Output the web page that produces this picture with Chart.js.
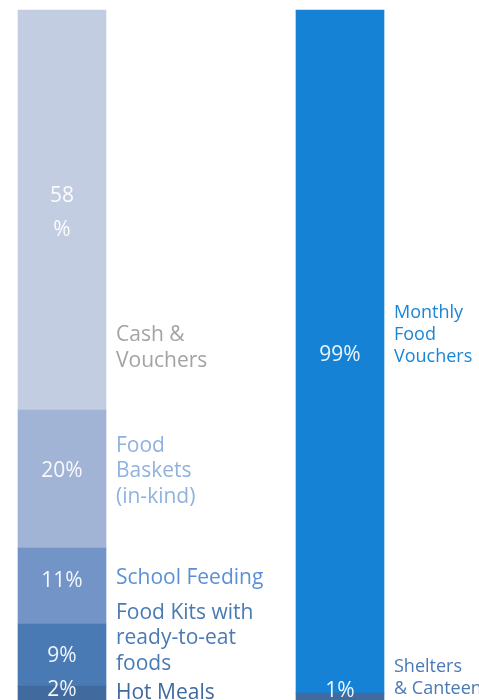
<!DOCTYPE html>
<html>
<head>
<meta charset="utf-8">
<script src="https://cdn.jsdelivr.net/npm/chart.js@4/dist/chart.umd.min.js"></script>
<style>
  html, body { margin: 0; padding: 0; background: #fff; }
  #wrap { position: relative; width: 479px; height: 700px; }
</style>
</head>
<body>
<div id="wrap"><canvas id="chart"></canvas></div>
<script>
// Two programmes, stacked from the bottom up
const programmes = ["Food Assistance", "Refugee Response"];

const leftLabels = [["Hot Meals"], ["Food Kits with", "ready-to-eat", "foods"], ["School Feeding"], ["Food", "Baskets", "(in-kind)"], ["Cash &", "Vouchers"]];
const leftValues = [2, 9, 11, 20, 58];
const leftPctText = [["2%"], ["9%"], ["11%"], ["20%"], ["58", "%"]];

const rightLabels = [["Shelters", "& Canteen"], ["Monthly", "Food", "Vouchers"]];
const rightValues = [1, 99];
const rightPctText = [["1%"], ["99%"]];

// look
const leftFill = ["#416a9e", "#4a7ab4", "#7294c6", "#a1b4d5", "#c3cde2"];
const leftText = ["#3f6a9e", "#4a7ab4", "#5b90d8", "#8fb2df", "#a3a3a3"];
const rightFill = ["#416a9e", "#1582d6"];
const rightText = ["#4a7ab4", "#1a86d6"];
// vertical nudges for labels relative to the segment centre
const leftLabelDy = [0, -17, -8, -8, 138];
const leftPctDy = [-3, 1, -5, -8, 3];
const rightLabelDy = [-19, -17];
const rightPctDy = [-6, 3];

const datasets = [];
leftValues.forEach((v, i) => {
  datasets.push({
    data: [v, null], backgroundColor: leftFill[i],
    _label: leftLabels[i], _pct: leftPctText[i], _color: leftText[i],
    _dy: leftLabelDy[i], _pdy: leftPctDy[i], _size: 21, _lh: 25.5
  });
});
rightValues.forEach((v, i) => {
  datasets.push({
    data: [null, v], backgroundColor: rightFill[i],
    _label: rightLabels[i], _pct: rightPctText[i], _color: rightText[i],
    _dy: rightLabelDy[i], _pdy: rightPctDy[i], _size: 18, _lh: 22
  });
});

const segmentText = {
  id: "segmentText",
  afterDatasetsDraw(chart) {
    const ctx = chart.ctx;
    ctx.save();
    ctx.textBaseline = "middle";
    chart.data.datasets.forEach((ds, di) => {
      const meta = chart.getDatasetMeta(di);
      meta.data.forEach((bar, idx) => {
        if (ds.data[idx] == null) return;
        const p = bar.getProps(["x", "y", "base", "width"], true);
        const cy = (p.y + p.base) / 2;
        // percentage inside the bar
        ctx.fillStyle = "rgba(255,255,255,0.92)";
        ctx.font = "21px 'Open Sans'";
        ctx.textAlign = "center";
        const pl = ds._pct;
        pl.forEach((t, k) => {
          ctx.fillText(t, p.x, cy + ds._pdy + (k - (pl.length - 1) / 2) * 34);
        });
        // name to the right
        ctx.fillStyle = ds._color;
        ctx.font = ds._size + "px 'Open Sans'";
        ctx.textAlign = "left";
        const ll = ds._label;
        ll.forEach((t, k) => {
          ctx.fillText(t, p.x + p.width / 2 + 10, cy + ds._dy + (k - (ll.length - 1) / 2) * ds._lh);
        });
      });
    });
    ctx.restore();
  }
};

new Chart(document.getElementById("chart"), {
  type: "bar",
  data: { labels: programmes, datasets: datasets },
  options: {
    responsive: true,
    maintainAspectRatio: false,
    animation: false,
    layout: { padding: { left: 62, right: 139, top: 10, bottom: 0 } },
    datasets: { bar: { barThickness: 88, borderWidth: 0, clip: false } },
    plugins: { legend: { display: false }, tooltip: { enabled: false } },
    scales: {
      x: { stacked: true, offset: false, display: false },
      y: { stacked: true, min: 0, max: 100, display: false }
    }
  },
  plugins: [segmentText]
});
</script>
</body>
</html>
